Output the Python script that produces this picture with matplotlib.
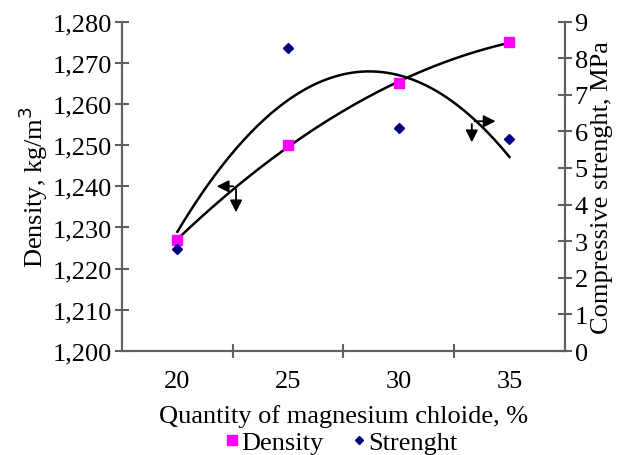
import numpy as np
import matplotlib
matplotlib.use("Agg")
import matplotlib.pyplot as plt
from matplotlib.ticker import FuncFormatter

plt.rcParams['font.family'] = ['Liberation Serif', 'DejaVu Serif']

# data
quantity = ['20', '25', '30', '35']
density = [1227, 1250, 1265, 1275]
strength = [2.78, 8.29, 6.1, 5.78]

x = np.arange(len(quantity))
xs = np.linspace(0, 3, 200)

fig = plt.figure(figsize=(6.21, 4.56), dpi=100)
ax = fig.add_axes([0.1965, 0.228, 0.713, 0.7225])
ax2 = ax.twinx()

spine_col = '#606060'

# density
ax.plot(x, density, 's', color='#ff00ff', markersize=7, zorder=3)
dfit = np.polyval(np.polyfit(x, density, 2), xs)
ax.plot(xs, dfit, color='black', lw=1.8)

# strength
ax2.plot(x, strength, 'D', color='#000080', markersize=5, zorder=3)
sfit = np.polyval(np.polyfit(x, strength, 2), xs)
ax2.plot(xs, sfit, color='black', lw=1.8)

ax.set_xlim(-0.5, 3.5)
ax.set_ylim(1200, 1280)
ax2.set_ylim(0, 9)
ax.set_yticks(np.arange(1200, 1281, 10))
ax2.set_yticks(np.arange(0, 10, 1))
ax.yaxis.set_major_formatter(FuncFormatter(lambda v, p: '{:,.0f}'.format(v)))

ax.set_xticks(x)
ax.set_xticklabels(quantity)
ax.set_xticks([0.5, 1.5, 2.5], minor=True)
ax.tick_params(axis='x', which='major', length=0, labelsize=19, pad=14)
ax.tick_params(axis='x', which='minor', direction='inout', length=10, width=1.5, color=spine_col)
ax.tick_params(axis='y', direction='inout', length=10, width=1.5, color=spine_col, labelsize=19, pad=2)
ax2.tick_params(axis='y', direction='inout', length=10, width=1.5, color=spine_col, labelsize=19, pad=2)

for a in (ax, ax2):
    a.spines['top'].set_visible(False)
    for s in ('left', 'right', 'bottom'):
        a.spines[s].set_color(spine_col)
        a.spines[s].set_linewidth(1.5)

ax.set_xlabel('Quantity of magnesium chloide, %', fontsize=19, labelpad=8)
ax.set_ylabel('Density, kg/m$^3$', fontsize=19, labelpad=2)
ax2.set_ylabel('Compressive strenght, MPa', fontsize=19, labelpad=2)

# arrows marking which curve belongs to which axis
arw = dict(arrowstyle='-|>', color='black', lw=1.3, mutation_scale=18)
ax.annotate('', xy=(0.33, 1240), xytext=(0.53, 1240), arrowprops=arw)
ax.annotate('', xy=(0.53, 1233.0), xytext=(0.53, 1240), arrowprops=arw)
ax.annotate('', xy=(2.9, 1255.8), xytext=(2.66, 1255.8), arrowprops=arw)
ax.annotate('', xy=(2.66, 1250.0), xytext=(2.66, 1255.8), arrowprops=arw)

h1 = plt.Line2D([], [], marker='s', color='#ff00ff', ls='none', markersize=7)
h2 = plt.Line2D([], [], marker='D', color='#000080', ls='none', markersize=4)
fig.legend([h1, h2], ['Density', 'Strenght'], loc='lower center', ncol=2,
           bbox_to_anchor=(0.55, -0.05), frameon=False, fontsize=19,
           handlelength=0.5, handletextpad=0.1, columnspacing=1.1)

fig.savefig('out.png', dpi=100)
